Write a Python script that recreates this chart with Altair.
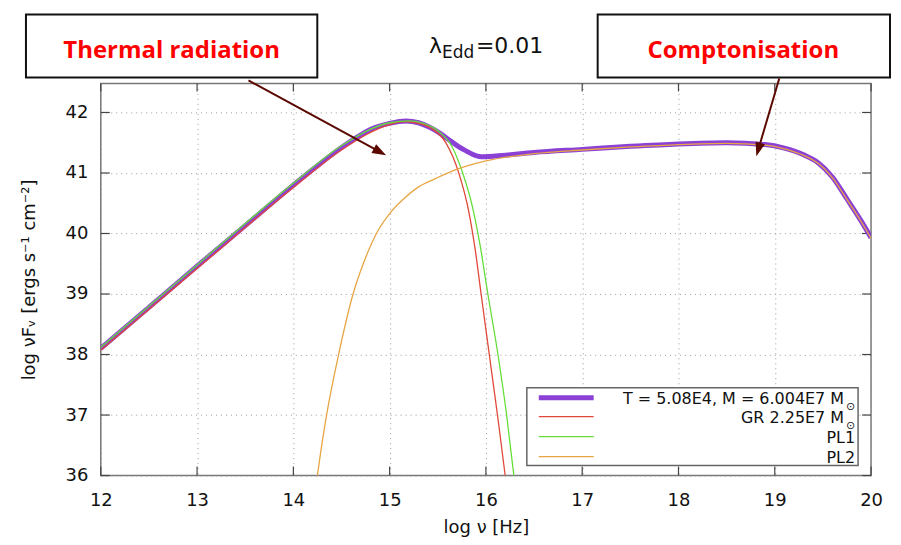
import altair as alt
import pandas as pd

# ---- data ----
total_x = [12.0, 12.5, 13.0, 13.5, 14.0, 14.25, 14.5, 14.65, 14.8, 15.0, 15.17, 15.3, 15.41,
           15.5, 15.58, 15.65, 15.72, 15.8, 15.86, 15.95, 16.1, 16.5, 17.0, 17.5, 18.0, 18.5, 18.9,
           19.1, 19.3, 19.45, 19.6, 19.75, 19.9, 20.0]
total_y = [38.10, 38.78, 39.46, 40.13, 40.80, 41.12, 41.42, 41.58, 41.72, 41.82, 41.86, 41.83, 41.76,
           41.68, 41.59, 41.51, 41.43, 41.36, 41.31, 41.27, 41.28, 41.34, 41.39, 41.44, 41.48, 41.50, 41.47,
           41.41, 41.30, 41.17, 40.93, 40.57, 40.20, 39.93]

gr_x = [12.0, 13.0, 14.0, 14.5, 15.0, 15.15, 15.3, 15.45, 15.58, 15.72, 15.82, 15.89, 15.95,
        16.035, 16.12, 16.2, 16.25]
gr_y = [38.07, 39.42, 40.76, 41.38, 41.80, 41.85, 41.82, 41.72, 41.51, 40.99, 40.38, 39.72, 39.00,
        38.00, 37.00, 36.00, 35.30]

pl1_x = [12.0, 13.0, 14.0, 14.5, 15.0, 15.2, 15.35, 15.5, 15.65, 15.75, 15.86, 15.94, 16.02,
         16.125, 16.215, 16.29, 16.35]
pl1_y = [38.12, 39.48, 40.83, 41.45, 41.83, 41.86, 41.82, 41.70, 41.43, 41.04, 40.44, 39.80, 39.00,
         38.00, 37.00, 36.00, 35.10]

pl2_x = [14.23, 14.25, 14.345, 14.47, 14.62, 14.75, 14.88, 15.0, 15.13, 15.3,
         15.48, 15.68, 16.0, 16.5, 17.0, 17.5, 18.0, 18.5, 18.9, 19.1, 19.3, 19.45, 19.6, 19.75, 19.9, 20.0]
pl2_y = [35.75, 36.00, 37.00, 38.00, 39.00, 39.60, 40.05, 40.33, 40.55, 40.77,
         40.91, 41.05, 41.20, 41.32, 41.38, 41.43, 41.47, 41.49, 41.46, 41.40, 41.29, 41.16, 40.92, 40.56, 40.19, 39.92]

x_ticks = [12, 13, 14, 15, 16, 17, 18, 19, 20]
y_ticks = [36, 37, 38, 39, 40, 41, 42]

series_names = ["total", "GR", "PL1", "PL2"]
legend_labels = ["T = 5.08E4, M = 6.004E7 M", "GR 2.25E7 M", "PL1", "PL2"]

rows = []
for name, xs, ys in [("total", total_x, total_y), ("GR", gr_x, gr_y),
                     ("PL1", pl1_x, pl1_y), ("PL2", pl2_x, pl2_y)]:
    rows += [{"series": name, "x": a, "y": b} for a, b in zip(xs, ys)]
df = pd.DataFrame(rows)

# ---- styling ----
W, H = 772, 393
FONT = "DejaVu Sans"
colors = {"total": "#8b40d6", "GR": "#e0483a", "PL1": "#66dd3a", "PL2": "#e8a543"}
widths = {"total": 5, "GR": 1.3, "PL1": 1.3, "PL2": 1.3}

xscale = alt.Scale(domain=[12, 20], nice=False, zero=False)
yscale = alt.Scale(domain=[36, 42.48], nice=False, zero=False)

xaxis = alt.Axis(title="log ν [Hz]", values=x_ticks, format="d", grid=True, gridDash=[1, 4],
                 gridColor="#9a9a9a", ticks=False, tickSize=0, domain=False,
                 labelFont=FONT, labelFontSize=18, labelColor="#111", labelPadding=16,
                 labelFlush=False, titleFont=FONT, titleFontSize=18, titleFontWeight="normal",
                 titleColor="#111", titleX=W / 2, titleY=57, titleBaseline="alphabetic")
yaxis = alt.Axis(title="log νFᵥ [ergs s⁻¹ cm⁻²]", values=y_ticks, format="d", grid=True,
                 gridDash=[1, 4], gridColor="#9a9a9a", ticks=False, tickSize=0, domain=False,
                 labelFont=FONT, labelFontSize=18, labelColor="#111", labelPadding=13,
                 labelFlush=False, titleFont=FONT, titleFontSize=18, titleFontWeight="normal",
                 titleColor="#111", titleX=-66, titleY=H / 2, titleAngle=270,
                 titleAlign="center", titleBaseline="alphabetic")

X = alt.X("x:Q", scale=xscale, axis=xaxis)
Y = alt.Y("y:Q", scale=yscale, axis=yaxis)

layers = []

# inward ticks on all four sides
xt = pd.DataFrame({"x": x_ticks})
yt = pd.DataFrame({"y": y_ticks})
layers.append(alt.Chart(xt).mark_rule(color="#444", strokeWidth=1.2).encode(
    x=X, y=alt.value(H - 9), y2=alt.value(H)))
layers.append(alt.Chart(xt).mark_rule(color="#444", strokeWidth=1.2).encode(
    x=X, y=alt.value(0), y2=alt.value(8)))
layers.append(alt.Chart(yt).mark_rule(color="#444", strokeWidth=1.2).encode(
    y=Y, x=alt.value(0), x2=alt.value(9)))
layers.append(alt.Chart(yt).mark_rule(color="#444", strokeWidth=1.2).encode(
    y=Y, x=alt.value(W - 9), x2=alt.value(W)))

# curves
for name in series_names:
    layers.append(
        alt.Chart(df).transform_filter(alt.datum.series == name)
        .mark_line(clip=True, color=colors[name], strokeWidth=widths[name],
                   interpolate="monotone")
        .encode(x=X, y=Y, order="x:Q")
    )

one = alt.Data(values=[{"a": 1}])

# legend box
layers.append(alt.Chart(one).mark_rect(fill="white", stroke="#666", strokeWidth=1.5).encode(
    x=alt.value(427), x2=alt.value(759), y=alt.value(305), y2=alt.value(383)))
row_y = [315, 334, 354, 374]
text_x = [745, 745, 756, 756]
for name, lab, ry, tx in zip(series_names, legend_labels, row_y, text_x):
    layers.append(alt.Chart(one).mark_rule(color=colors[name], strokeWidth=widths[name]).encode(
        x=alt.value(439), x2=alt.value(494), y=alt.value(ry)))
    layers.append(alt.Chart(one).mark_text(font=FONT, fontSize=16, align="right",
                                           baseline="middle", color="#111").encode(
        x=alt.value(tx), y=alt.value(ry + 1), text=alt.value(lab)))
    if lab.endswith("M"):
        layers.append(alt.Chart(one).mark_text(font=FONT, fontSize=11, align="left",
                                               baseline="middle", color="#111").encode(
            x=alt.value(tx + 2), y=alt.value(ry + 9), text=alt.value("⊙")))

# title λ_Edd = 0.01
layers.append(alt.Chart(one).mark_text(font=FONT, fontSize=22, align="left",
                                       baseline="alphabetic", color="#111").encode(
    x=alt.value(329), y=alt.value(-30), text=alt.value("λ")))
layers.append(alt.Chart(one).mark_text(font=FONT, fontSize=17, align="left",
                                       baseline="alphabetic", color="#111").encode(
    x=alt.value(342), y=alt.value(-25), text=alt.value("Edd")))
layers.append(alt.Chart(one).mark_text(font=FONT, fontSize=22, align="left",
                                       baseline="alphabetic", color="#111").encode(
    x=alt.value(376), y=alt.value(-30), text=alt.value("=0.01")))

# annotation boxes
for (x1, x2, label, cx) in [(-75, 217, "Thermal radiation", 71), (498, 791, "Comptonisation", 644)]:
    layers.append(alt.Chart(one).mark_rect(fill="white", stroke="#111", strokeWidth=2).encode(
        x=alt.value(x1), x2=alt.value(x2), y=alt.value(-69), y2=alt.value(-6)))
    layers.append(alt.Chart(one).mark_text(font="Open Sans", fontWeight="bold", fontSize=24,
                                           align="center", baseline="alphabetic",
                                           color="#ff0000").encode(
        x=alt.value(cx), y=alt.value(-25), text=alt.value(label)))

# arrows
ARROW = "#5a0800"
head = "M1,0L-1,-0.7L-1,0.7Z"
for (sx, sy, cx, cy, ang) in [(148, -3, 279.8, 68.7, 28.5), (680, -5, 659, 66.3, 106.4)]:
    layers.append(alt.Chart(one).mark_rule(color=ARROW, strokeWidth=2).encode(
        x=alt.value(sx), y=alt.value(sy), x2=alt.value(cx), y2=alt.value(cy)))
    layers.append(alt.Chart(one).mark_point(shape=head, filled=True, color=ARROW, size=196,
                                            angle=ang, opacity=1, strokeWidth=0).encode(
        x=alt.value(cx), y=alt.value(cy)))

chart = alt.layer(*layers).properties(
    width=W, height=H, autosize="none",
    padding={"left": 93, "top": 75, "right": 22, "bottom": 61},
    background="white",
).configure_view(stroke="#777", strokeWidth=1.5)

chart.save("out.html", embed_options={"renderer": "svg", "actions": False})
